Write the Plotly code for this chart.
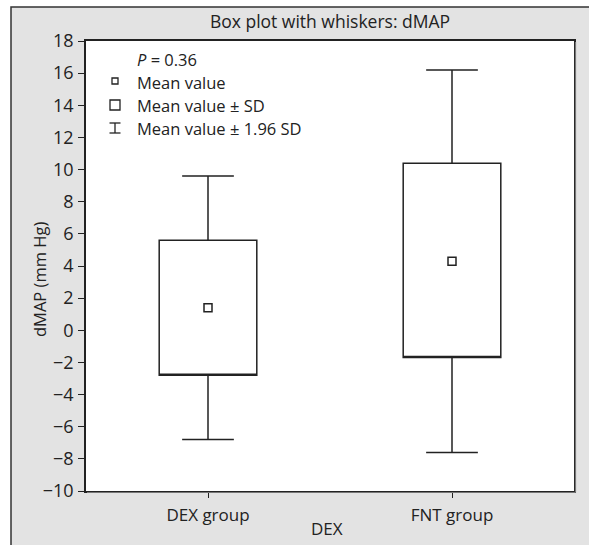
import plotly.graph_objects as go

# ---- data ----
groups = ["DEX group", "FNT group"]
mean_vals = [1.4, 4.3]
sd_low = [-2.8, -1.7]
sd_high = [5.6, 10.4]
ci_low = [-6.8, -7.6]
ci_high = [9.6, 16.2]
y_ticks = list(range(-10, 19, 2))
p_label = "<i>P</i> = 0.36"
legend_labels = ["Mean value", "Mean value ± SD", "Mean value ± 1.96 SD"]
title_text = "Box plot with whiskers: dMAP"
y_title = "dMAP (mm Hg)"
x_title = "DEX"

# ---- layout geometry ----
W, H = 589, 545
L, R, T, B = 86, 15, 41, 54
PW, PH = W - L - R, H - T - B
FONT = "Open Sans"
INK = "#222222"


def px(x):
    return (x - L) / PW


def py(y):
    return (H - B - y) / PH


fig = go.Figure()

fig.add_trace(go.Box(
    x=groups,
    q1=sd_low,
    median=sd_low,
    q3=sd_high,
    lowerfence=ci_low,
    upperfence=ci_high,
    width=0.4,
    whiskerwidth=0.53,
    fillcolor="white",
    line=dict(color=INK, width=1.5),
    boxpoints=False,
    hoverinfo="skip",
    showlegend=False,
))

fig.add_trace(go.Scatter(
    x=groups,
    y=mean_vals,
    mode="markers",
    marker=dict(symbol="square-open", size=8, color=INK, line=dict(width=1.5, color=INK)),
    showlegend=False,
    hoverinfo="skip",
))

shapes = [
    # outer gray frame
    dict(type="rect", xref="paper", yref="paper", x0=px(11), x1=px(640), y0=py(600), y1=py(7),
         fillcolor="#e3e3e3", line=dict(color="#333333", width=1.5), layer="below"),
    # white plot area
    dict(type="rect", xref="paper", yref="paper", x0=0, x1=1, y0=0, y1=1,
         fillcolor="white", line=dict(width=0), layer="below"),
    # shadow on right and bottom edges of the plot frame
    dict(type="line", xref="paper", yref="paper", x0=px(575.5), x1=px(575.5), y0=py(492.5), y1=py(42),
         line=dict(color="#777777", width=1.2)),
    dict(type="line", xref="paper", yref="paper", x0=px(87), x1=px(575.5), y0=py(492.5), y1=py(492.5),
         line=dict(color="#777777", width=1.2)),
    # legend key: small square
    dict(type="rect", xref="paper", yref="paper", x0=px(112), x1=px(118), y0=py(84), y1=py(78),
         fillcolor="white", line=dict(color=INK, width=1.3)),
    # legend key: big square
    dict(type="rect", xref="paper", yref="paper", x0=px(110), x1=px(120), y0=py(110), y1=py(100),
         fillcolor="white", line=dict(color=INK, width=1.3)),
    # legend key: I-beam
    dict(type="line", xref="paper", yref="paper", x0=px(115), x1=px(115), y0=py(133), y1=py(123),
         line=dict(color=INK, width=1.3)),
    dict(type="line", xref="paper", yref="paper", x0=px(109.5), x1=px(120.5), y0=py(133), y1=py(133),
         line=dict(color=INK, width=1.3)),
    dict(type="line", xref="paper", yref="paper", x0=px(109.5), x1=px(120.5), y0=py(123), y1=py(123),
         line=dict(color=INK, width=1.3)),
]

annotations = [
    dict(text=p_label, xref="paper", yref="paper", x=px(135), y=py(59), xanchor="left", yanchor="middle",
         showarrow=False, font=dict(family=FONT, size=16.5, color=INK)),
    dict(text=y_title, xref="paper", yref="paper", x=px(39), y=py(280), xanchor="center", yanchor="middle",
         textangle=-90, showarrow=False, font=dict(family=FONT, size=16.5, color=INK)),
    dict(text=x_title, xref="paper", yref="paper", x=px(327), y=py(528), xanchor="center", yanchor="middle",
         showarrow=False, font=dict(family=FONT, size=17, color=INK)),
]
for lab, yy in zip(legend_labels, [82, 105, 128]):
    annotations.append(dict(text=lab, xref="paper", yref="paper", x=px(135), y=py(yy), xanchor="left",
                            yanchor="middle", showarrow=False, font=dict(family=FONT, size=16.5, color=INK)))

fig.update_layout(
    width=W, height=H,
    margin=dict(l=L, r=R, t=T, b=B, pad=0),
    paper_bgcolor="white",
    plot_bgcolor="white",
    font=dict(family=FONT, size=16, color=INK),
    title=dict(text=title_text, x=0.5, xref="paper", xanchor="center", y=1 - 22 / H, yanchor="middle",
               font=dict(family=FONT, size=17.5, color=INK)),
    shapes=shapes,
    annotations=annotations,
    showlegend=False,
)

fig.update_yaxes(
    range=[-10, 18], tickvals=y_ticks, ticks="outside", ticklen=6, tickwidth=1.2, tickcolor=INK,
    showline=True, linecolor=INK, linewidth=1.5, mirror=True, showgrid=False, zeroline=False,
    tickfont=dict(family=FONT, size=18, color=INK), ticklabelstandoff=1,
)
fig.update_xaxes(
    range=[-0.5, 1.5], ticks="outside", ticklen=5, tickwidth=1.2, tickcolor=INK,
    showline=True, linecolor=INK, linewidth=1.5, mirror=True, showgrid=False, zeroline=False,
    tickfont=dict(family=FONT, size=17, color=INK), ticklabelstandoff=3,
)

fig.write_html("out.html", config={"displayModeBar": False},
               post_script="document.body.style.margin='0px';")
